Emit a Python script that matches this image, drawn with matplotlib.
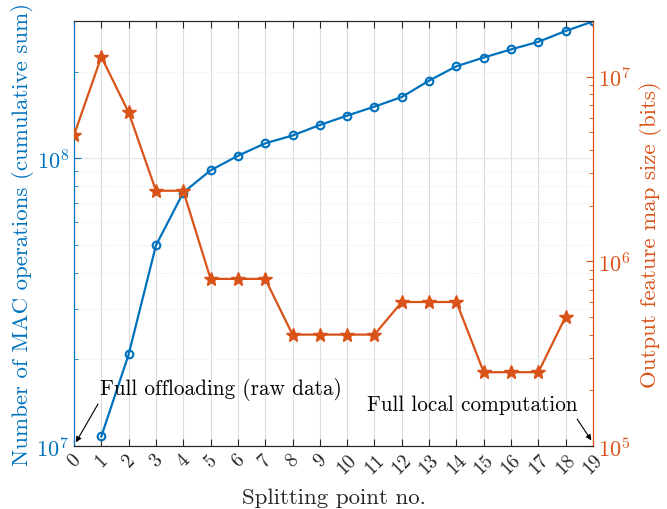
import numpy as np
import matplotlib.pyplot as plt
from matplotlib.ticker import LogLocator, NullFormatter

plt.rcParams['font.family'] = 'cmr10'
plt.rcParams['mathtext.fontset'] = 'cm'
plt.rcParams['axes.formatter.use_mathtext'] = True

# datos
puntos = list(range(20))
mac_x = list(range(1, 20))
mac_ops = [1.08e7, 2.08e7, 4.98e7, 7.6e7, 9.08e7, 1.02e8, 1.127e8, 1.2e8, 1.305e8,
           1.407e8, 1.512e8, 1.633e8, 1.862e8, 2.088e8, 2.24e8, 2.39e8, 2.54e8,
           2.77e8, 2.99e8]
fm_x = list(range(0, 19))
fm_bits = [4.82e6, 1.28e7, 6.4e6, 2.41e6, 2.41e6, 8.03e5, 8.03e5, 8.03e5, 4.01e5,
           4.01e5, 4.01e5, 4.01e5, 6.02e5, 6.02e5, 6.02e5, 2.51e5, 2.51e5, 2.51e5,
           5.02e5]

azul = '#0072BD'
naranja = '#D95319'

fig = plt.figure(figsize=(6.67, 5.1), dpi=100)
ax = fig.add_axes([74/667, 1 - 447/510, (593-74)/667, (447-22)/510])
ax2 = ax.twinx()

ax.plot(mac_x, mac_ops, color=azul, lw=1.6, marker='o', ms=5.5, mfc='none', mew=1.5, zorder=3)
ax2.plot(fm_x, fm_bits, color=naranja, lw=1.6, marker='*', ms=10, zorder=3)

ax.set_yscale('log')
ax.set_ylim(1e7, 3e8)
ax2.set_yscale('log')
ax2.set_ylim(1e5, 2e7)
ax.set_xlim(0, 19)
ax.set_xticks(puntos)
ax.set_xticklabels([str(p) for p in puntos], rotation=45, fontsize=14)

ax.yaxis.set_major_locator(LogLocator(base=10, numticks=10))
ax.yaxis.set_minor_locator(LogLocator(base=10, subs=np.arange(2, 10), numticks=10))
ax.yaxis.set_minor_formatter(NullFormatter())
ax2.yaxis.set_minor_formatter(NullFormatter())

ax.grid(True, axis='x', color='#dcdcdc', lw=0.8)
ax.grid(True, axis='y', which='major', color='#dfe9f2', lw=0.8)
ax.grid(True, axis='y', which='minor', color='#dfe9f2', lw=0.7, ls=':')
ax.set_axisbelow(True)

ax.tick_params(axis='y', colors=azul, labelsize=16, direction='in', which='both')
ax.tick_params(axis='y', which='major', length=5)
ax.tick_params(axis='y', which='minor', length=3)
ax.tick_params(axis='x', direction='in', top=True, length=5, colors='#262626', pad=3)
ax2.tick_params(axis='y', colors=naranja, labelsize=16, direction='in', which='both')
ax2.tick_params(axis='y', which='major', length=5)
ax2.tick_params(axis='y', which='minor', length=3)

ax.spines['left'].set_color(azul)
ax2.spines['left'].set_color(azul)
for a in (ax, ax2):
    a.spines['top'].set_color('#262626')
    a.spines['bottom'].set_color('#262626')
    a.spines['right'].set_color(naranja)

ax.set_xlabel('Splitting point no.', fontsize=16.5, color='#262626', labelpad=8)
ax.set_ylabel('Number of MAC operations (cumulative sum)', fontsize=16.5, color=azul, labelpad=2)
ax2.set_ylabel('Output feature map size (bits)', fontsize=16.5, color=naranja, labelpad=6)

# anotaciones de los extremos
ax.text(0.95, 1.59e7, 'Full offloading (raw data)', fontsize=15.3, color='black',
        ha='left', va='center')
ax.annotate('', xy=(0.07, 1.03e7), xytext=(0.88, 1.40e7),
            arrowprops=dict(arrowstyle='-|>', color='black', lw=0.8, mutation_scale=8,
                            shrinkA=0, shrinkB=0))
ax.text(18.42, 1.40e7, 'Full local computation', fontsize=15.3, color='black',
        ha='right', va='center')
ax.annotate('', xy=(18.94, 1.046e7), xytext=(18.42, 1.24e7),
            arrowprops=dict(arrowstyle='-|>', color='black', lw=0.8, mutation_scale=8,
                            shrinkA=0, shrinkB=0))

fig.savefig('out.png', dpi=100)
